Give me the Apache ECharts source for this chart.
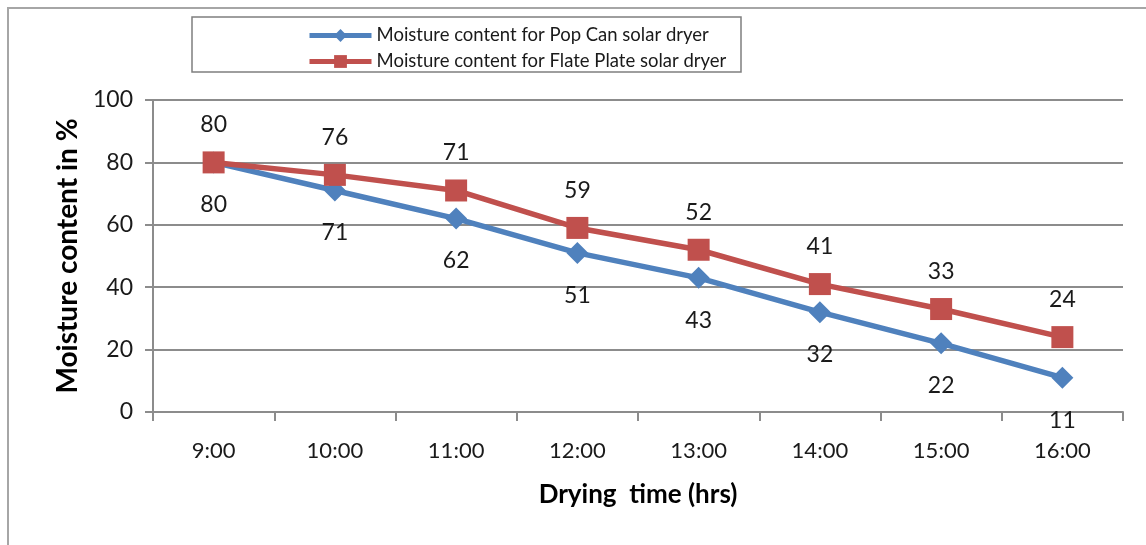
<!DOCTYPE html>
<html>
<head>
<meta charset="utf-8">
<script src="https://cdn.jsdelivr.net/npm/echarts@6/dist/echarts.min.js"></script>
<style>
  html, body { margin: 0; padding: 0; background: #fff; }
  #chart { width: 1146px; height: 545px; }
</style>
</head>
<body>
<div id="chart"></div>
<script>
// Drying hours and moisture content readings for the two dryers
const hours = ['9:00', '10:00', '11:00', '12:00', '13:00', '14:00', '15:00', '16:00'];
const popCanMoisture = [80, 71, 62, 51, 43, 32, 22, 11];
const flatPlateMoisture = [80, 76, 71, 59, 52, 41, 33, 24];
const yTicks = { min: 0, max: 100, step: 20 };

const FONT = 'Lato, "Open Sans", sans-serif';
const BLUE = '#4F81BD';
const RED = '#C0504D';
const GRID = '#8c8c8c';
const TEXT = '#1a1a1a';

const chart = echarts.init(document.getElementById('chart'), null, { renderer: 'canvas' });

chart.setOption({
  backgroundColor: '#fff',
  animation: false,
  graphic: [
    // frame around the chart area (top and left edges visible)
    { type: 'rect', shape: { x: 8, y: 8, width: 1200, height: 600 },
      style: { fill: 'none', stroke: '#a6a6a6', lineWidth: 2 }, silent: true },
    // legend box
    { type: 'rect', shape: { x: 192, y: 17, width: 549, height: 55 },
      style: { fill: '#fff', stroke: '#7f7f7f', lineWidth: 1.5 }, z: 0, silent: true }
  ],
  legend: {
    orient: 'vertical',
    left: 302,
    top: 21,
    itemWidth: 62,
    itemHeight: 16,
    itemGap: 7,
    itemGap: 7,
    z: 10,
    lineStyle: { width: 5 },
    textStyle: { fontFamily: FONT, fontSize: 18.5, color: TEXT, lineHeight: 18 },
    data: [
      { name: 'Moisture content for Pop Can solar dryer' },
      { name: 'Moisture content for Flate Plate solar dryer' }
    ]
  },
  grid: { left: 153, right: 23, top: 100, bottom: 133, containLabel: false },
  xAxis: {
    type: 'category',
    data: hours,
    boundaryGap: true,
    name: 'Drying  time (hrs)',
    nameLocation: 'middle',
    nameGap: 70,
    nameTextStyle: { fontFamily: FONT, fontSize: 26, fontWeight: 'bold', color: '#000' },
    axisLine: { lineStyle: { color: GRID, width: 2 } },
    axisTick: { show: true, length: 9, lineStyle: { color: GRID, width: 2 } },
    axisLabel: { fontFamily: FONT, fontSize: 22, color: TEXT, margin: 28 },
    splitLine: { show: false }
  },
  yAxis: {
    type: 'value',
    min: yTicks.min,
    max: yTicks.max,
    interval: yTicks.step,
    name: 'Moisture content in %',
    nameLocation: 'middle',
    nameGap: 70,
    nameRotate: 90,
    nameTextStyle: { fontFamily: FONT, fontSize: 28, fontWeight: 'bold', color: '#000' },
    axisLine: { show: true, lineStyle: { color: GRID, width: 2 } },
    axisTick: { show: true, length: 8, lineStyle: { color: GRID, width: 2 } },
    axisLabel: { fontFamily: FONT, fontSize: 23, color: TEXT, margin: 20 },
    splitLine: { show: true, lineStyle: { color: GRID, width: 2 } }
  },
  series: [
    {
      name: 'Moisture content for Pop Can solar dryer',
      type: 'line',
      data: popCanMoisture,
      color: BLUE,
      symbol: 'diamond',
      symbolSize: 22,
      lineStyle: { width: 5.5, color: BLUE },
      itemStyle: { color: BLUE },
      label: {
        show: true, position: 'bottom', distance: 20,
        fontFamily: FONT, fontSize: 23, color: TEXT
      },
      z: 3
    },
    {
      name: 'Moisture content for Flate Plate solar dryer',
      type: 'line',
      data: flatPlateMoisture,
      color: RED,
      symbol: 'rect',
      symbolSize: 22,
      lineStyle: { width: 5.5, color: RED },
      itemStyle: { color: RED },
      label: {
        show: true, position: 'top', distance: 15,
        fontFamily: FONT, fontSize: 23, color: TEXT
      },
      z: 4
    }
  ]
});
</script>
</body>
</html>
